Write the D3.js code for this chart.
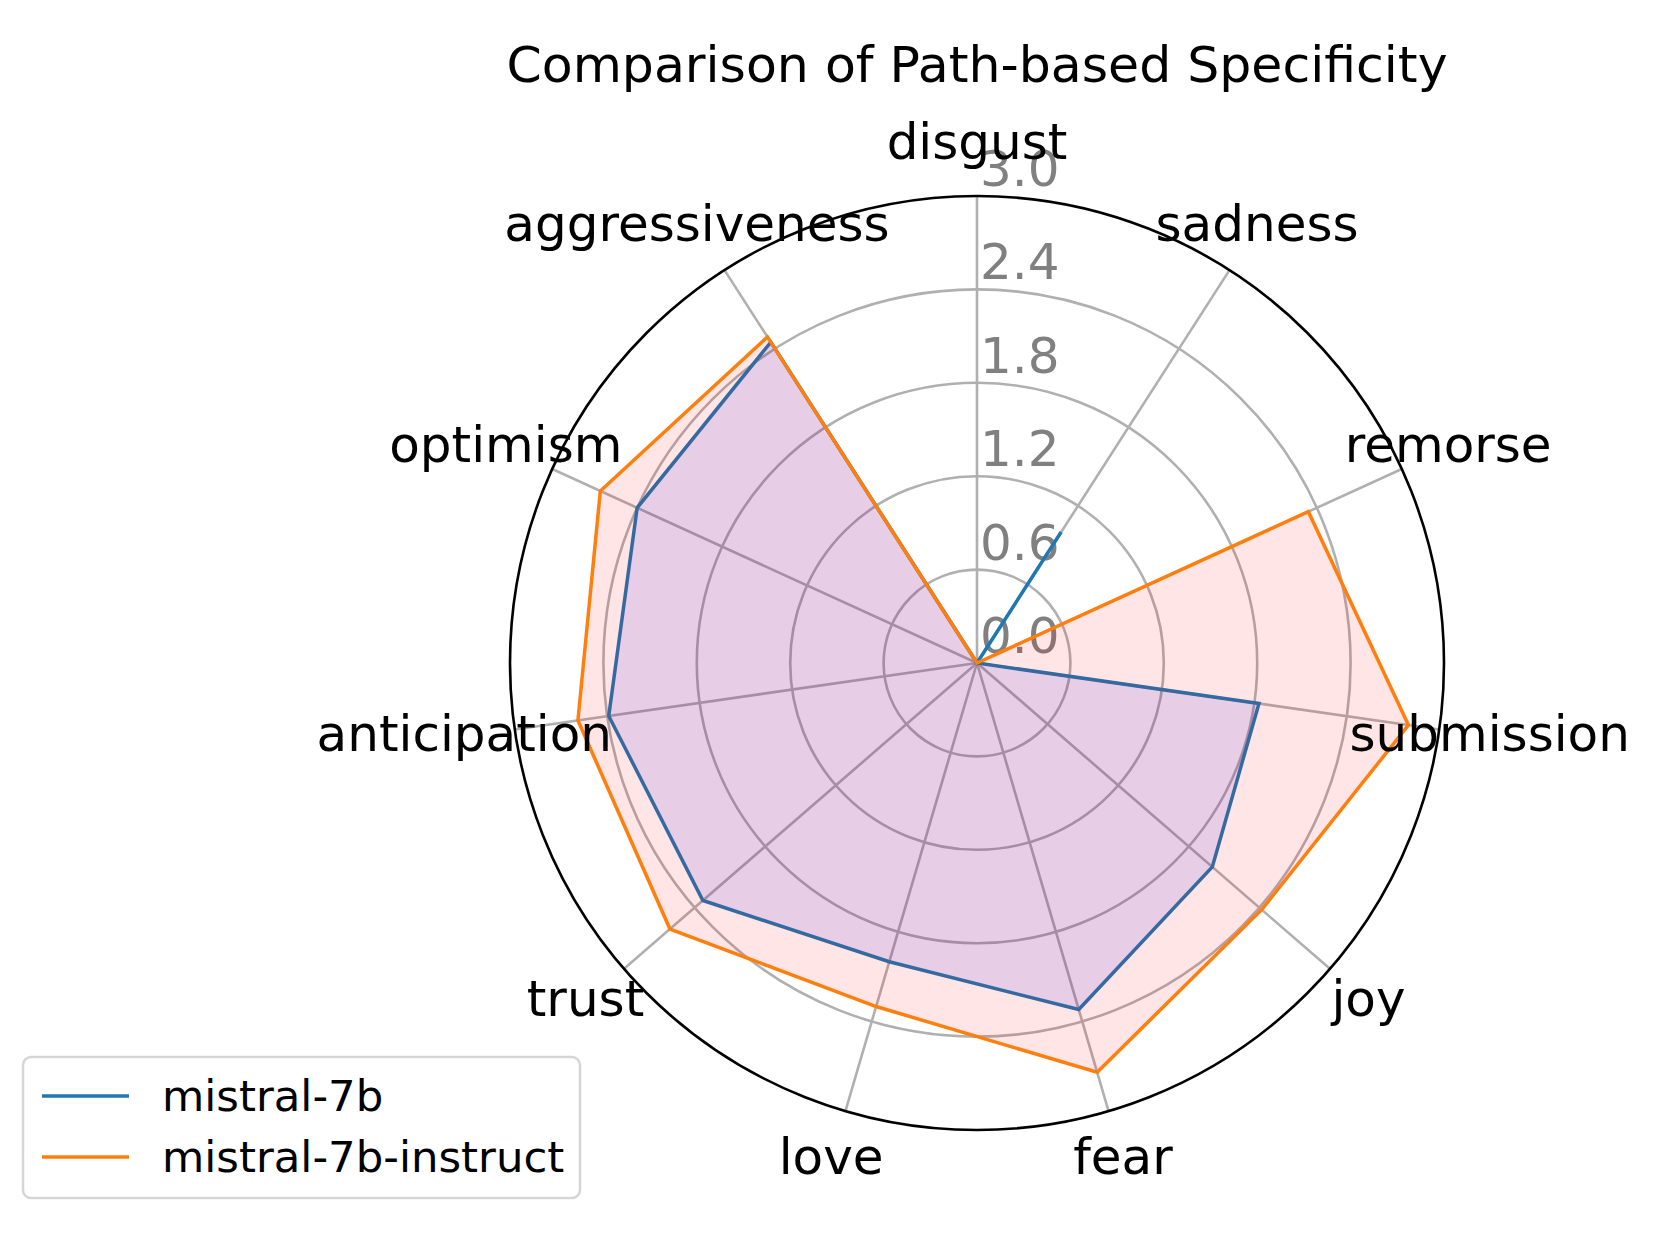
<!DOCTYPE html>
<html>
<head>
<meta charset="utf-8">
<script src="https://cdn.jsdelivr.net/npm/d3@7"></script>
<style>
  body { margin: 0; background: #fff; }
  svg text { font-family: "DejaVu Sans", sans-serif; }
</style>
</head>
<body>
<div id="radar"></div>
<script>
var categories = ["disgust", "sadness", "remorse", "submission", "joy", "fear",
    "love", "trust", "anticipation", "optimism", "aggressiveness"];
var mistral7b = [0, 1.0, 0, 1.83, 2.0, 2.32, 2.0, 2.33, 2.39, 2.4, 2.45];
var mistral7bInstruct = [0, 0, 2.34, 2.8, 2.42, 2.74, 2.3, 2.61, 2.59, 2.66, 2.49];
var seriesNames = ["mistral-7b", "mistral-7b-instruct"];
var rTicks = [0, 0.6, 1.2, 1.8, 2.4, 3.0];

var W = 1660, H = 1245;
var cx = 977, cy = 663, R = 467;

var svg = d3.select("#radar")
    .append("svg")
    .attr("width", W)
    .attr("height", H);

var r = d3.scaleLinear().domain([0, 3]).range([0, R]);
var angle = d3.scaleLinear().domain([0, categories.length]).range([0, 2 * Math.PI]);

var g = svg.append("g")
    .attr("transform", "translate(" + cx + "," + cy + ")");

// grid circles
g.selectAll(".ring")
    .data(rTicks.filter(function(d){ return d > 0 && d < 3; }))
    .enter()
    .append("circle")
    .attr("r", function(d){ return r(d); })
    .style("fill", "none")
    .style("stroke", "#b0b0b0")
    .style("stroke-width", 2.6);

// spokes
g.selectAll(".spoke")
    .data(categories)
    .enter()
    .append("line")
    .attr("x1", 0)
    .attr("y1", 0)
    .attr("x2", function(d, i){ return r(3) * Math.sin(angle(i)); })
    .attr("y2", function(d, i){ return -r(3) * Math.cos(angle(i)); })
    .style("stroke", "#b0b0b0")
    .style("stroke-width", 2.6);

// radial tick labels, up the 0 degree spoke
g.selectAll(".rlab")
    .data(rTicks)
    .enter()
    .append("text")
    .attr("x", 3)
    .attr("y", function(d){ return -r(d) - 10; })
    .style("font-size", "50px")
    .style("fill", "#808080")
    .text(function(d){ return d.toFixed(1); });

var radial = d3.lineRadial()
    .angle(function(d, i){ return angle(i); })
    .radius(function(d){ return r(d); })
    .curve(d3.curveLinearClosed);

var lineColors = ["#1f77b4", "#ff7f0e"];
var fillColors = ["blue", "red"];
var allSeries = [mistral7b, mistral7bInstruct];

allSeries.forEach(function(vals, k){
    g.append("path")
        .attr("d", radial(vals))
        .style("fill", fillColors[k])
        .style("fill-opacity", 0.1)
        .style("stroke", "none");
    g.append("path")
        .attr("d", radial(vals))
        .style("fill", "none")
        .style("stroke", lineColors[k])
        .style("stroke-width", 3.5)
        .style("stroke-linejoin", "miter");
});

// outer frame
g.append("circle")
    .attr("r", r(3))
    .style("fill", "none")
    .style("stroke", "black")
    .style("stroke-width", 2.6);

// category labels
var labR = 518;
g.selectAll(".cat")
    .data(categories)
    .enter()
    .append("text")
    .attr("x", function(d, i){ return labR * Math.sin(angle(i)); })
    .attr("y", function(d, i){ return -labR * Math.cos(angle(i)) - 3; })
    .attr("text-anchor", "middle")
    .attr("dominant-baseline", "central")
    .style("font-size", "50px")
    .style("fill", "black")
    .text(function(d){ return d; });

svg.append("text")
    .attr("x", cx)
    .attr("y", 82)
    .attr("text-anchor", "middle")
    .style("font-size", "50.5px")
    .text("Comparison of Path-based Specificity");

// legend
var legend = svg.append("g").attr("transform", "translate(23,1057)");
legend.append("rect")
    .attr("width", 557)
    .attr("height", 141)
    .attr("rx", 8)
    .style("fill", "white")
    .style("fill-opacity", 0.8)
    .style("stroke", "#d6d6d6")
    .style("stroke-width", 2.5);

var rowY = [39, 100];
seriesNames.forEach(function(name, k){
    legend.append("line")
        .attr("x1", 19)
        .attr("x2", 106)
        .attr("y1", rowY[k])
        .attr("y2", rowY[k])
        .style("stroke", lineColors[k])
        .style("stroke-width", 3.5);
    legend.append("text")
        .attr("x", 139)
        .attr("y", rowY[k])
        .attr("dominant-baseline", "central")
        .style("font-size", "43.4px")
        .text(name);
});
</script>
</body>
</html>
